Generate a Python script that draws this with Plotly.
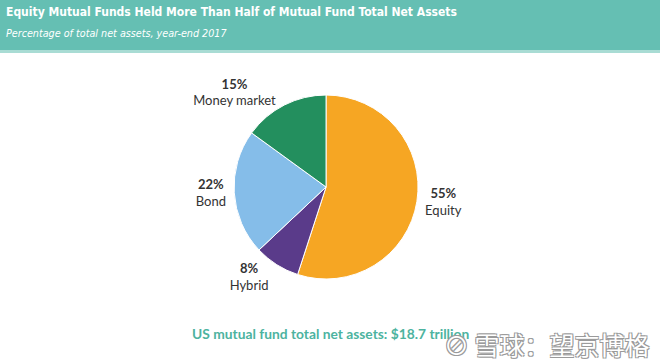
import plotly.graph_objects as go

categories = ["Equity", "Hybrid", "Bond", "Money market"]
shares = [55, 8, 22, 15]
colors = ["#F6A623", "#5A3B8A", "#85BDE9", "#238F5E"]

title = "Equity Mutual Funds Held More Than Half of Mutual Fund Total Net Assets"
subtitle = "Percentage of total net assets, year-end 2017"
footer = "US mutual fund total net assets: $18.7 trillion"
watermark = "雪球：望京博格"

W, H = 660, 362
COND = "Liberation Sans Narrow, DejaVu Sans Condensed, Lato, sans-serif"

fig = go.Figure(go.Pie(
    labels=categories,
    values=shares,
    sort=False,
    direction="clockwise",
    rotation=0,
    marker=dict(colors=colors, line=dict(color="white", width=1)),
    texttemplate="<b>%{value}%</b><br>%{label}",
    textposition="outside",
    textfont=dict(family="Lato, Open Sans, sans-serif", size=13, color="#333333"),
    hoverinfo="label+percent",
    showlegend=False,
    domain=dict(x=[0.3546, 0.6334], y=[0.2293, 0.7375]),
))

outline = "1px 1px 0 #9a9a9a, -1px -1px 0 #9a9a9a, 1px -1px 0 #9a9a9a, -1px 1px 0 #9a9a9a"

fig.update_layout(
    width=W, height=H,
    margin=dict(l=0, r=0, t=0, b=0),
    paper_bgcolor="white",
    plot_bgcolor="white",
    shapes=[
        dict(type="rect", xref="paper", yref="paper", x0=0, x1=1,
             y0=1 - 50 / H, y1=1, fillcolor="#65BFB3", line=dict(width=0), layer="below"),
        dict(type="rect", xref="paper", yref="paper", x0=0, x1=1,
             y0=1 - 53 / H, y1=1 - 50 / H, fillcolor="#A9DCD4", line=dict(width=0), layer="below"),
    ],
    annotations=[
        dict(text="<b>" + title + "</b>", xref="paper", yref="paper",
             x=4 / W, y=1 - 12 / H, xanchor="left", yanchor="middle", showarrow=False,
             font=dict(family=COND, size=12, color="white")),
        dict(text="<i>" + subtitle + "</i>", xref="paper", yref="paper",
             x=4 / W, y=1 - 34 / H, xanchor="left", yanchor="middle", showarrow=False,
             font=dict(family=COND, size=10.7, color="white")),
        dict(text="<b>" + footer + "</b>", xref="paper", yref="paper",
             x=190 / W, y=1 - 333 / H, xanchor="left", yanchor="middle", showarrow=False,
             font=dict(family="Lato, Open Sans, sans-serif", size=13.8, color="#4DB39F")),
        dict(text="⊘ " + watermark, xref="paper", yref="paper",
             x=652 / W, y=1 - 344 / H, xanchor="right", yanchor="middle", showarrow=False,
             font=dict(family="Noto Sans CJK SC", size=25, color="white", shadow=outline)),
    ],
)

fig.write_html("out.html", config={"displayModeBar": False},
               post_script="document.body.style.margin='0';")
